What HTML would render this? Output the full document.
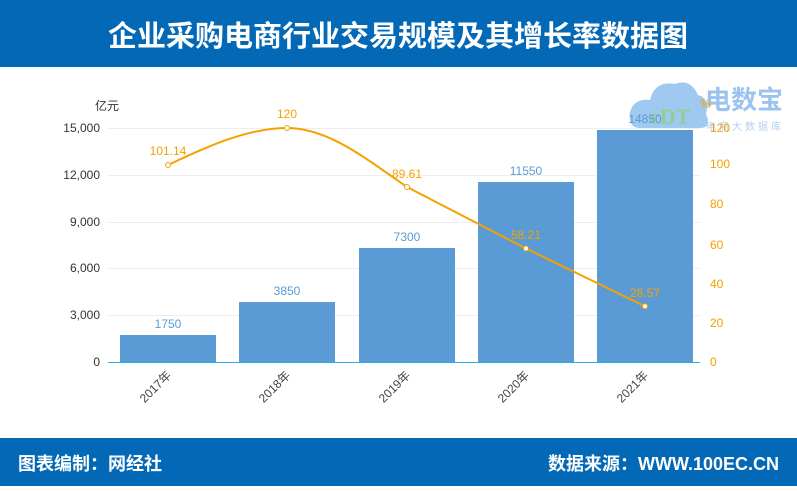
<!DOCTYPE html>
<html><head><meta charset="utf-8"><style>
body{margin:0;width:797px;height:486px;overflow:hidden;background:#fff;font-family:"Liberation Sans","Noto Sans CJK SC",sans-serif}
</style></head><body>
<svg width="797" height="486" xmlns="http://www.w3.org/2000/svg" font-family="Liberation Sans, Noto Sans CJK SC, sans-serif">
<rect x="0" y="0" width="797" height="67" fill="#0368b6"/>
<text x="398" y="46" fill="#fff" font-size="29" font-weight="bold" text-anchor="middle">企业采购电商行业交易规模及其增长率数据图</text>
<rect x="0" y="438" width="797" height="48" fill="#0368b6"/>
<text x="18" y="470" fill="#fff" font-size="18" font-weight="bold">图表编制：网经社</text>
<text x="779" y="470" fill="#fff" font-size="18" font-weight="bold" text-anchor="end">数据来源：WWW.100EC.CN</text>
<g opacity="0.75">
<path d="M640 128 Q628 128 630 112 Q634 98 650 100 Q655 80 675 84 Q690 78 698 95 Q710 98 706 114 Q712 128 700 128 Z" fill="#7fb8ec"/>
<text x="650" y="124" fill="#6cc070" font-size="22" font-weight="bold" font-family="Liberation Serif, serif">cDT</text>
<text x="705" y="109" fill="#7ab0ea" font-size="26" font-weight="bold">电数宝</text>
<text x="706" y="130" fill="#9cc3ee" font-size="10" letter-spacing="3">电商大数据库</text>
</g>
<g stroke="#eeeeee" stroke-width="1">
<line x1="108" y1="128.5" x2="700" y2="128.5"/><line x1="108" y1="175.5" x2="700" y2="175.5"/>
<line x1="108" y1="222.5" x2="700" y2="222.5"/><line x1="108" y1="268.5" x2="700" y2="268.5"/>
<line x1="108" y1="315.5" x2="700" y2="315.5"/>
</g>
<g fill="#333" font-size="12" text-anchor="end">
<text x="100" y="132">15,000</text><text x="100" y="179">12,000</text><text x="100" y="226">9,000</text>
<text x="100" y="272">6,000</text><text x="100" y="319">3,000</text><text x="100" y="366">0</text>
</g>
<text x="95" y="110" fill="#333" font-size="12">亿元</text>
<g fill="#f5a100" font-size="12">
<text x="710" y="132">120</text><text x="710" y="168">100</text><text x="710" y="208">80</text>
<text x="710" y="249">60</text><text x="710" y="288">40</text><text x="710" y="327">20</text><text x="710" y="366">0</text>
<text x="700" y="108">%</text>
</g>
<g fill="#5b9bd5">
<rect x="120" y="335" width="96" height="27"/><rect x="239" y="302" width="96" height="60"/>
<rect x="359" y="248" width="96" height="114"/><rect x="478" y="182" width="96" height="180"/>
<rect x="597" y="130" width="96" height="232"/>
</g>
<line x1="108" y1="362.5" x2="700" y2="362.5" stroke="#2ab0e8" stroke-width="1"/>
<g fill="#5b9bd5" font-size="12" text-anchor="middle">
<text x="168" y="328">1750</text><text x="287" y="295">3850</text><text x="407" y="241">7300</text>
<text x="526" y="175">11550</text><text x="645" y="123">14850</text>
</g>
<path d="M168 165 C200 150 245 128 287 128 C330 128 370 162 407 187 L526 248.5 L645 306.3" fill="none" stroke="#f5a100" stroke-width="2"/>
<g fill="#fff" stroke="#f5a100" stroke-width="1">
<circle cx="168" cy="165" r="2.5"/><circle cx="287" cy="128" r="2.5"/><circle cx="407" cy="187" r="2.5"/>
<circle cx="526" cy="248.5" r="2.5"/><circle cx="645" cy="306.3" r="2.5"/>
</g>
<g fill="#f5a100" font-size="12" text-anchor="middle">
<text x="168" y="155">101.14</text><text x="287" y="118">120</text><text x="407" y="178">89.61</text>
<text x="526" y="239">58.21</text><text x="645" y="297">28.57</text>
</g>
<g fill="#444" font-size="12" text-anchor="end">
<text transform="translate(172,376) rotate(-45)">2017年</text>
<text transform="translate(291,376) rotate(-45)">2018年</text>
<text transform="translate(411,376) rotate(-45)">2019年</text>
<text transform="translate(530,376) rotate(-45)">2020年</text>
<text transform="translate(649,376) rotate(-45)">2021年</text>
</g>
</svg>
</body></html>
